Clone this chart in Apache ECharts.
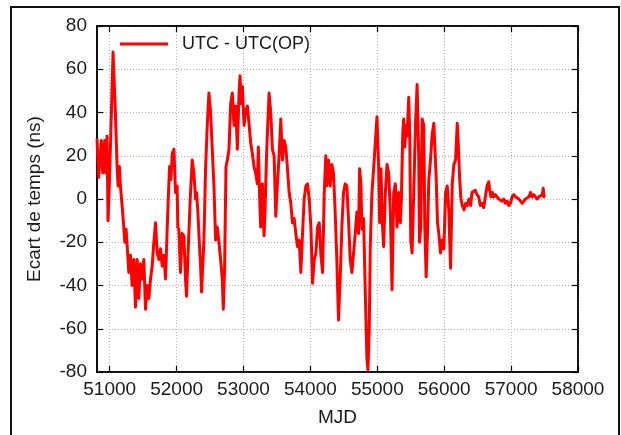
<!DOCTYPE html>
<html>
<head>
<meta charset="utf-8">
<script src="https://cdn.jsdelivr.net/npm/echarts@6/dist/echarts.min.js"></script>
<style>
	html, body { margin: 0; padding: 0; background: #fff; }
	#main { width: 621px; height: 435px; }
</style>
</head>
<body>
<div id="main"></div>
<script>
// MJD (days) and UTC - UTC(OP) in ns
const mjd = [
	50810, 50835, 50875, 50895, 50925, 50940, 50960, 50975, 50995, 51025,
	51050, 51085, 51110, 51125, 51145, 51160, 51185, 51210, 51225, 51245,
	51270, 51285, 51310, 51335, 51360, 51385, 51410, 51435, 51460, 51485,
	51510, 51535, 51560, 51585, 51610, 51635, 51660, 51685, 51710, 51735,
	51760, 51785, 51810, 51835, 51860, 51875, 51895, 51915, 51935, 51960,
	51983, 52008, 52018, 52033, 52058, 52083, 52108, 52133, 52148, 52168,
	52183, 52208, 52233, 52258, 52283, 52298, 52318, 52333, 52358, 52373,
	52393, 52408, 52433, 52458, 52483, 52508, 52533, 52558, 52583, 52608,
	52633, 52658, 52683, 52698, 52718, 52738, 52758, 52783, 52808, 52833,
	52858, 52883, 52908, 52933, 52948, 52968, 52983, 53008, 53033, 53058,
	53082, 53107, 53132, 53157, 53182, 53207, 53222, 53242, 53257, 53282,
	53307, 53322, 53342, 53362, 53382, 53407, 53432, 53457, 53482, 53507,
	53532, 53557, 53582, 53607, 53632, 53657, 53682, 53707, 53732, 53757,
	53782, 53807, 53832, 53857, 53882, 53907, 53932, 53957, 53982, 54007,
	54032, 54057, 54082, 54107, 54132, 54157, 54182, 54207, 54230, 54245,
	54270, 54295, 54320, 54345, 54370, 54395, 54420, 54445, 54470, 54495,
	54520, 54545, 54570, 54595, 54620, 54645, 54670, 54695, 54720, 54735,
	54755, 54770, 54795, 54820, 54845, 54860, 54880, 54895, 54920, 54945,
	54970, 54995, 55020, 55035, 55055, 55075, 55095, 55120, 55145, 55170,
	55195, 55220, 55245, 55270, 55295, 55320, 55345, 55360, 55380, 55395,
	55410, 55430, 55445, 55470, 55485, 55500, 55520, 55545, 55570, 55595,
	55620, 55630, 55650, 55670, 55695, 55710, 55730, 55750, 55770, 55795,
	55820, 55845, 55860, 55880, 55900, 55920, 55945, 55970, 55995, 56020,
	56045, 56070, 56095, 56120, 56145, 56170, 56195, 56210, 56230, 56250,
	56270, 56295, 56320, 56345, 56370, 56395, 56415, 56440, 56465, 56490,
	56515, 56540, 56565, 56590, 56615, 56640, 56665, 56680, 56700, 56720,
	56740, 56765, 56790, 56815, 56840, 56865, 56890, 56915, 56940, 56965,
	56990, 57015, 57040, 57065, 57090, 57115, 57140, 57165, 57190, 57215,
	57240, 57265, 57290, 57315, 57340, 57365, 57390, 57415, 57440, 57465,
	57480, 57490, 57500
]
const ecart = [
	28, 10, 27, 12, 27, 12, 29, -10, 7, 40,
	68, 40, 15, 6, 15, 6, -3, -13, -20, -14,
	-26, -34, -26, -40, -28, -50, -28, -46, -30, -37,
	-28, -51, -40, -46, -37, -31, -20, -11, -25, -28,
	-23, -31, -26, -37, -13, 0, 15, 9, 21, 23,
	3, 6, -13, -14, -34, -16, -17, -37, -45, -28,
	-16, 3, 18, 12, 0, 3, -6, -16, -31, -43,
	-43, -19, 14, 34, 49, 40, 23, 6, -19, -13,
	-20, -28, -37, -51, -31, 15, 18, 23, 44, 49,
	34, 43, 23, 49, 57, 44, 52, 34, 41, 43,
	35, 26, 21, 15, 12, 7, 24, 0, -13, 7,
	-17, -6, 18, 34, 49, 40, 23, 20, -8, 7,
	20, 37, 18, 27, 24, 14, 3, -2, -11, -9,
	-16, -22, -19, -34, -16, 0, 6, 7, 0, -13,
	-39, -28, -25, -13, -11, -26, -34, 3, 20, 6,
	18, 6, 16, 12, -6, -28, -56, -37, -13, 3,
	7, 6, -10, -28, -34, -25, -16, -6, -16, 14,
	7, -14, -9, -43, -74, -79, -59, -22, 3, 14,
	14, 38, 15, -11, 14, -11, -22, 3, 16, 12,
	-6, -42, 3, 7, -13, 3, -11, 0, 30, 37,
	24, 34, 29, 47, 29, -19, -25, 3, 34, 53,
	18, -20, -13, 37, 34, -13, -36, -16, 9, 18,
	30, 35, 24, 10, -11, -16, -25, -19, -23, 3,
	6, -6, -32, 7, 16, 18, 35, 26, 10, 0,
	-3, -5, -2, -3, 0, -3, 3, 3, 4, 2,
	1, -3, -2, -4, -4, 6, 8, 4, 1, 3,
	1, 2, 1, 0, 0, -1, 0, -2, -1, -3,
	-2, 1, 2, 1, 1, 0, -1, -2, -2, 0,
	0, 1, 3, 1, 2, 1, 0, 1, 1, 2,
	5, 1, 2
]
const xTicks = [51000, 52000, 53000, 54000, 55000, 56000, 57000, 58000]
const seriesName = "UTC - UTC(OP)"

const fontFamily = "Liberation Sans, Arial, sans-serif"
const textColor = "#1a1a1a"
const splitLine = {
	show: true,
	lineStyle: { color: "#b0b0b0", type: [1, 2], width: 1 }
}
const tick = { show: true, inside: true, length: 6, lineStyle: { color: "#000", width: 1.2 } }
const line = { show: true, onZero: false, lineStyle: { color: "#000", width: 1.5 } }

var myChart = echarts.init(document.getElementById("main"), null, { renderer: "canvas" })
var option = {
	animation: false,
	backgroundColor: "#fff",
	textStyle: { fontFamily: fontFamily },
	grid: {
		left: 97,
		right: 43,
		top: 26,
		bottom: 63,
		show: true,
		borderColor: "#000",
		borderWidth: 1.5,
		backgroundColor: "transparent"
	},
	graphic: [{
		type: "rect",
		shape: { x: 11, y: 7, width: 608, height: 440 },
		style: { fill: "none", stroke: "#111", lineWidth: 2 },
		silent: true
	}],
	legend: {
		left: 115,
		top: 30,
		itemWidth: 48,
		itemHeight: 18,
		icon: "path://M0,7.5 L48,7.5 L48,10.5 L0,10.5 Z",
		textStyle: { fontSize: 18, color: textColor, fontFamily: fontFamily, padding: [0, 0, 0, 9] },
		data: [seriesName]
	},
	xAxis: [{
		type: "value",
		min: 50810,
		max: 58000,
		name: "MJD",
		nameLocation: "middle",
		nameGap: 36,
		nameTextStyle: { fontSize: 19, color: textColor },
		axisLine: line,
		axisTick: Object.assign({ customValues: xTicks }, tick),
		axisLabel: {
			customValues: xTicks,
			fontSize: 19,
			color: textColor,
			margin: 8,
			formatter: (v) => String(v)
		},
		splitLine: splitLine
	}, {
		type: "value",
		position: "top",
		min: 50810,
		max: 58000,
		axisLine: line,
		axisTick: Object.assign({ customValues: xTicks }, tick),
		axisLabel: { show: false, customValues: xTicks },
		splitLine: { show: false }
	}],
	yAxis: [{
		type: "value",
		min: -80,
		max: 80,
		interval: 20,
		name: "Ecart de temps (ns)",
		nameLocation: "middle",
		nameGap: 53,
		nameTextStyle: { fontSize: 19, color: textColor },
		axisLine: line,
		axisTick: tick,
		axisLabel: { fontSize: 19, color: textColor, margin: 10 },
		splitLine: splitLine
	}, {
		type: "value",
		position: "right",
		min: -80,
		max: 80,
		interval: 20,
		axisLine: line,
		axisTick: tick,
		axisLabel: { show: false },
		splitLine: { show: false }
	}],
	series: [{
		name: seriesName,
		type: "line",
		symbol: "none",
		xAxisIndex: 0,
		yAxisIndex: 0,
		data: mjd.map((d, i) => [d, ecart[i]]),
		lineStyle: { color: "#ff0000", width: 3, join: "round" },
		itemStyle: { color: "#ff0000" },
		z: 3
	}]
}
myChart.setOption(option)
</script>
</body>
</html>
